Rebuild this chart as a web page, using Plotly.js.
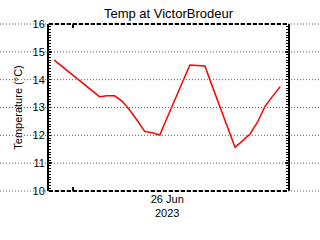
<!DOCTYPE html>
<html>
<head>
<meta charset="utf-8">
<script src="https://cdn.plot.ly/plotly-3.0.1.min.js"></script>
<style>html,body{margin:0;padding:0;background:#fff;}#chart{width:320px;height:240px;}</style>
</head>
<body>
<div id="chart"></div>
<script>
// Hourly readings at VictorBrodeur
var times = [
  '2023-06-25 21:30','2023-06-25 22:30','2023-06-25 23:30','2023-06-26 00:30',
  '2023-06-26 01:30','2023-06-26 02:30','2023-06-26 03:30','2023-06-26 04:30',
  '2023-06-26 05:30','2023-06-26 06:30','2023-06-26 07:30','2023-06-26 08:30',
  '2023-06-26 09:30','2023-06-26 10:30','2023-06-26 11:30','2023-06-26 12:30',
  '2023-06-26 13:30','2023-06-26 14:30','2023-06-26 15:30','2023-06-26 16:30',
  '2023-06-26 17:30','2023-06-26 18:30','2023-06-26 19:30','2023-06-26 20:30',
  '2023-06-26 21:30','2023-06-26 22:30','2023-06-26 23:30','2023-06-27 00:30',
  '2023-06-27 01:30','2023-06-27 02:30','2023-06-27 03:30'
];
var temps = [
  14.70, 14.48, 14.26, 14.05, 13.83, 13.61, 13.39, 13.42,
  13.42, 13.23, 12.91, 12.54, 12.14, 12.09, 12.01, 12.64,
  13.28, 13.91, 14.53, 14.51, 14.49, 13.75, 13.04, 12.33,
  11.57, 11.80, 12.05, 12.48, 13.05, 13.41, 13.75
];
var xRange = ['2023-06-25 20:48', '2023-06-27 04:32'];
var xTickVals = ['2023-06-26 00:00'];
var xLabelVals = ['2023-06-26 12:30'];
var xLabelText = ['26 Jun<br>2023'];
var yTicks = [10, 11, 12, 13, 14, 15, 16];
var yRange = [10, 16];

var W = 320, H = 240, mL = 49, mR = 32, mT = 24, mB = 49;
var pw = W - mL - mR;

var shapes = yTicks.map(function (v) {
  var yp = (v - yRange[0]) / (yRange[1] - yRange[0]);
  return {type: 'line', xref: 'paper', yref: 'paper',
    x0: -mL / pw, x1: 1 + mR / pw, y0: yp, y1: yp,
    line: {color: '#606060', width: 1, dash: '1px,2px'}, layer: 'above'};
});
[0, 1].forEach(function (yp) {
  shapes.push({type: 'line', xref: 'paper', yref: 'paper', x0: 0, x1: 1, y0: yp, y1: yp,
    line: {color: '#000', width: 2, dash: '4px,2px'}, layer: 'above'});
});

var font = 'Liberation Sans, Arial, sans-serif';
var data = [
  {x: times, y: temps, type: 'scatter', mode: 'lines',
   line: {color: '#ff0000', width: 1.5}, hoverinfo: 'skip'},
  {x: times, y: temps, type: 'scatter', mode: 'lines', xaxis: 'x2',
   line: {color: 'rgba(0,0,0,0)', width: 0}, hoverinfo: 'skip'}
];
var layout = {
  width: W, height: H,
  margin: {l: mL, r: mR, t: mT, b: mB, pad: 0},
  paper_bgcolor: '#fff', plot_bgcolor: '#fff',
  showlegend: false,
  font: {family: font, color: '#000', size: 11},
  title: {text: 'Temp at VictorBrodeur', font: {family: font, size: 13, color: '#000'},
    x: 0.5, xref: 'paper', xanchor: 'center', y: 1 - 13 / H, yref: 'container', yanchor: 'middle'},
  xaxis: {type: 'date', range: xRange, tickmode: 'array', tickvals: xTickVals, ticktext: [''],
    ticks: 'inside', ticklen: 4, tickwidth: 1.5, tickcolor: '#000', mirror: 'ticks',
    showline: false, showgrid: false, zeroline: false, fixedrange: true},
  xaxis2: {type: 'date', overlaying: 'x', matches: 'x', side: 'bottom', range: xRange,
    tickmode: 'array', tickvals: xLabelVals, ticktext: xLabelText, ticks: '',
    showline: false, showgrid: false, zeroline: false,
    tickfont: {family: font, size: 11, color: '#000'}},
  yaxis: {range: yRange, tickmode: 'array', tickvals: yTicks, ticktext: yTicks.map(String),
    ticks: 'inside', ticklen: 3, tickwidth: 1.5, tickcolor: '#000',
    minor: {dtick: 0.1, ticks: 'inside', ticklen: 2, tickwidth: 1, tickcolor: '#000', showgrid: false},
    showline: true, linewidth: 2, linecolor: '#000', mirror: 'ticks',
    showgrid: false, zeroline: false,
    tickfont: {family: font, size: 11, color: '#000'},
    title: {text: 'Temperature (°C)', font: {family: font, size: 11, color: '#000'}, standoff: 8}},
  shapes: shapes
};
Plotly.newPlot('chart', data, layout, {staticPlot: true, displayModeBar: false});
</script>
</body>
</html>
